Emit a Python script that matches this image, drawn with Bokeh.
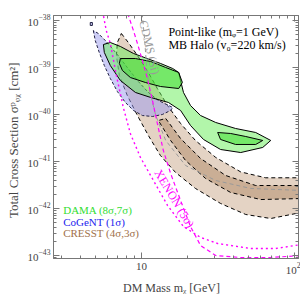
from bokeh.plotting import figure
from bokeh.models import LogAxis, FixedTicker, Label
from bokeh.embed import file_html
from bokeh.resources import INLINE

FONT = "Liberation Serif"

# ---------------- data ----------------
x_major = [10, 100]
x_minor = [3, 4, 5, 6, 7, 8, 9, 20, 30, 40, 50, 60, 70, 80, 90]
y_major = [1e-43, 1e-42, 1e-41, 1e-40, 1e-39, 1e-38]
y_minor = [k * 10.0 ** e for e in range(-44, -37) for k in range(2, 10)]

cogent_mass = [4.86, 5.0, 5.31, 5.73, 6.27, 6.97, 7.86, 8.87, 10.15, 11.8, 13.7,
               15.5, 16.0, 14.6, 12.9, 11.1, 9.55, 8.09, 6.87, 5.90, 5.24]
cogent_sigma = [6.1e-39, 3.75e-39, 2.09e-39, 1.10e-39, 5.83e-40, 3.08e-40, 1.80e-40,
                1.22e-40, 9.5e-41, 9.06e-41, 1.0e-40, 1.22e-40, 1.41e-40, 1.63e-40,
                1.99e-40, 2.94e-40, 5.03e-40, 1.0e-39, 1.99e-39, 3.57e-39, 5.28e-39]
cogent_isle_mass = [4.64, 4.79, 4.79, 4.64]
cogent_isle_sigma = [9.06e-39, 9.06e-39, 7.83e-39, 7.83e-39]

cresst_out_mass = [7.40, 8.22, 9.42, 10.9, 12.7, 14.8, 18.0, 22.5, 30.5, 44.4, 64.6, 110,
                   110, 69.7, 47.9, 32.8, 22.5, 16.7, 13.3, 11.1, 9.42, 8.09, 7.18, 6.87, 6.97]
cresst_out_sigma = [5.28e-39, 3.40e-39, 1.80e-39, 8.63e-40, 3.57e-40, 1.55e-40, 6.44e-41,
                    2.80e-41, 1.22e-41, 6.0e-42, 4.5e-42, 4.5e-42, 8.22e-43, 6.12e-43,
                    7.45e-43, 1.28e-42, 2.67e-42, 5.83e-42, 1.34e-41, 3.57e-41, 9.5e-41,
                    2.54e-40, 6.76e-40, 1.80e-39, 3.40e-39]

cresst_in_mass = [14.4, 18.0, 24.3, 35.4, 55.6, 110, 110, 60.0, 38.2, 26.2, 19.4, 15.5, 12.9]
cresst_in_sigma = [8.22e-41, 3.08e-41, 1.16e-41, 5.04e-42, 3.08e-42, 3.08e-42, 1.63e-42,
                   1.55e-42, 2.19e-42, 4.35e-42, 1.05e-41, 2.80e-41, 7.45e-41]

dama_out_mass = [5.65, 6.27, 7.29, 8.87, 10.9, 13.3, 16.0, 17.5, 18.0, 18.8, 20.9, 24.3,
                 30.5, 41.1, 55.6, 69.7, 61.8, 44.4, 32.8, 25.4, 20.9, 18.0, 15.0, 11.5,
                 9.14, 7.29, 6.27, 5.73]
dama_out_sigma = [3.08e-39, 3.40e-39, 2.80e-39, 1.99e-39, 1.55e-39, 1.22e-39, 9.5e-40,
                  7.83e-40, 5.29e-40, 2.94e-40, 1.55e-40, 9.5e-41, 6.76e-41, 5.04e-41,
                  4.14e-41, 2.80e-41, 1.99e-41, 1.55e-41, 1.80e-41, 2.94e-41, 5.83e-41,
                  1.22e-40, 1.80e-40, 2.30e-40, 2.94e-40, 5.29e-40, 1.10e-39, 2.09e-39]

dama_in1_mass = [7.29, 9.14, 11.5, 14.4, 17.5, 18.5, 17.5, 13.3, 10.6, 8.47, 7.52, 7.18]
dama_in1_sigma = [1.55e-39, 1.55e-39, 1.34e-39, 1.0e-39, 7.83e-40, 4.80e-40, 3.57e-40,
                  3.94e-40, 4.80e-40, 6.12e-40, 8.63e-40, 1.22e-39]

dama_in2_mass = [31.4, 38.2, 47.9, 61.8, 55.6, 41.1, 32.8]
dama_in2_sigma = [4.14e-41, 3.94e-41, 3.40e-41, 2.80e-41, 2.30e-41, 2.30e-41, 2.94e-41]

# XENON curves: one steep at low mass (dotted), one further right (dashed)
xenon_a_mass = [5.5, 5.65, 5.90, 6.27, 6.87, 7.62, 8.47, 9.85, 11.98, 14.8, 18.8, 24.3,
                31.4, 51.5, 75.2, 110]
xenon_a_sigma = [2e-38, 1.28e-38, 6.12e-39, 3.24e-39, 6.76e-40, 1.41e-40, 3.94e-41,
                 1.22e-41, 3.94e-42, 1.16e-42, 4.14e-43, 2.42e-43, 1.80e-43, 1.41e-43,
                 1.41e-43, 1.71e-43]

xenon_b_mass = [8.0, 8.22, 8.87, 9.42, 10.15, 10.9, 11.8, 12.7, 13.9, 15.5, 18.0, 20.9,
                24.3, 30.5, 44.4, 69.7, 110]
xenon_b_sigma = [2e-38, 1.28e-38, 6.12e-39, 3.24e-39, 1.41e-39, 6.12e-40, 1.99e-40,
                 6.44e-41, 1.71e-41, 5.56e-42, 1.48e-42, 4.14e-43, 1.63e-43, 1.0e-43,
                 9.06e-44, 9.06e-44, 1.0e-43]

cdms_mass = [10.0, 10.15, 10.5, 10.8, 11.3, 12.4, 14.4, 19.4, 30.5, 51.5, 110]
cdms_sigma = [2e-38, 1.28e-38, 3.75e-39, 1.10e-39, 3.24e-40, 9.5e-41, 2.80e-41, 8.22e-42,
              3.94e-42, 2.67e-42, 2.42e-42]

# ---------------- figure ----------------
p = figure(width=300, height=299, x_axis_type="log", y_axis_type="log",
           x_range=(2.672, 105.7), y_range=(8.63e-44, 1.276e-38),
           output_backend="svg", toolbar_location=None,
           min_border_left=53, min_border_top=15, min_border_right=2,
           min_border_bottom=41)
p.grid.visible = False
p.outline_line_color = "#777777"
p.background_fill_color = "white"
p.border_fill_color = "white"

xt = FixedTicker(ticks=x_major, minor_ticks=x_minor)
yt = FixedTicker(ticks=y_major, minor_ticks=y_minor)
p.xaxis.ticker = xt
p.yaxis.ticker = yt
p.xaxis.major_label_overrides = {10: "10"}

for ax in (p.xaxis[0], p.yaxis[0]):
    ax.axis_line_color = "#777777"
    ax.major_tick_line_color = "#777777"
    ax.minor_tick_line_color = "#777777"
    ax.major_tick_in = 6
    ax.major_tick_out = 0
    ax.minor_tick_in = 3
    ax.minor_tick_out = 0
    ax.major_label_text_font = FONT
    ax.major_label_text_font_size = "11px"
    ax.major_label_standoff = 4
    ax.axis_label_text_font = FONT
    ax.axis_label_text_font_size = "12px"
    ax.axis_label_text_font_style = "normal"
    ax.axis_label_standoff = 4

p.xaxis.axis_label = "DM Mass    mᵪ [GeV]"
p.yaxis.axis_label = "Total Cross Section   σᵖᵩᵪ [cm²]"
p.yaxis.axis_label_text_font_size = "13px"
p.yaxis.major_label_standoff = 3
p.yaxis.axis_label_standoff = 3

for side, tk in (("right", yt), ("above", xt)):
    ax = LogAxis(ticker=tk)
    ax.axis_line_color = "#777777"
    ax.major_tick_line_color = "#777777"
    ax.minor_tick_line_color = "#777777"
    ax.major_tick_in = 6
    ax.major_tick_out = 0
    ax.minor_tick_in = 3
    ax.minor_tick_out = 0
    ax.major_label_text_font_size = "2px"
    ax.major_label_text_alpha = 0
    ax.major_label_standoff = 0
    p.add_layout(ax, side)

# ---------------- regions ----------------
p.patch(cresst_out_mass, cresst_out_sigma, fill_color="#c9a889", fill_alpha=0.5,
        line_color="black", line_dash="4 3", line_width=1)
p.patch(cresst_in_mass, cresst_in_sigma, fill_color="#b08a66", fill_alpha=0.5,
        line_color="black", line_dash="4 3", line_width=1)
p.patch(cogent_mass, cogent_sigma, fill_color="#9999ee", fill_alpha=0.5,
        line_color="#222244", line_dash="3 2", line_width=1)
p.patch(cogent_isle_mass, cogent_isle_sigma, fill_color="#9999ee", fill_alpha=0.5,
        line_color="#222244", line_width=1)
p.patch(dama_out_mass, dama_out_sigma, fill_color="#66ee55", fill_alpha=0.5,
        line_color="black", line_width=1)
p.patch(dama_in1_mass, dama_in1_sigma, fill_color="#44dd33", fill_alpha=0.55,
        line_color="black", line_width=1)
p.patch(dama_in2_mass, dama_in2_sigma, fill_color="#44dd33", fill_alpha=0.55,
        line_color="black", line_width=1)

p.line(cdms_mass, cdms_sigma, line_color="#999999", line_dash="4 3", line_width=1)
p.line(xenon_a_mass, xenon_a_sigma, line_color="#ff00ff", line_dash="2 3", line_width=1.4)
p.line(xenon_b_mass, xenon_b_sigma, line_color="#ff00ff", line_dash="4 3", line_width=1.2)

# ---------------- texts ----------------
def lab(x, y, t, color="black", angle=0.0, align="left", size="11px"):
    p.add_layout(Label(x=x, y=y, text=t, text_color=color, angle=angle,
                       text_align=align, text_baseline="middle",
                       text_font=FONT, text_font_size=size))

lab(15.0, 5.56e-39, "Point-like (mᵩ=1 GeV)", size="12px")
lab(15.0, 3.08e-39, "MB Halo (v₀=220 km/s)", size="12px")
lab(3.09, 9.5e-43, "DAMA  (8σ,7σ)", color="#33dd33", size="11px")
lab(3.09, 5.28e-43, "CoGeNT  (1σ)", color="#2222ee", size="11px")
lab(3.09, 3.08e-43, "CRESST  (4σ,3σ)", color="#a0704a", size="11px")
lab(11.3, 2.67e-39, "CDMS (Si)", color="#999999", angle=-1.34, align="center", size="12px")
lab(16.4, 1.63e-42, "XENON (5σ)", color="#ff00ff", angle=-1.03, align="center", size="12px")

open("out.html", "w").write(file_html(p, INLINE))
